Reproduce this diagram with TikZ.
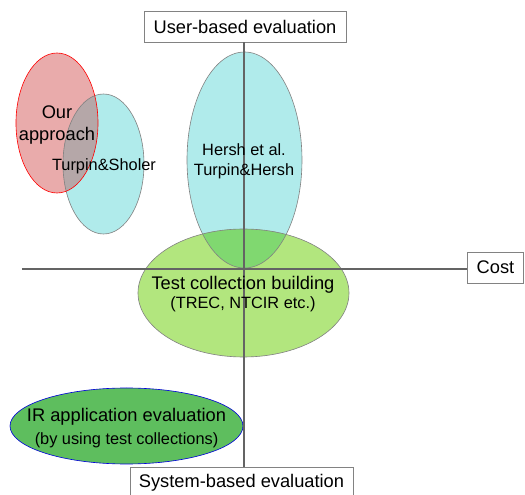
\documentclass[tikz,border=0pt]{standalone}
\usepackage{fontspec}
\setmainfont{Liberation Sans}
\usetikzlibrary{positioning}
\definecolor{paleblue}{RGB}{176,235,235}
\definecolor{rosefill}{RGB}{233,171,171}
\definecolor{mauve}{RGB}{181,167,168}
\definecolor{lightgreen}{RGB}{178,230,126}
\definecolor{midgreen}{RGB}{128,216,112}
\definecolor{appgreen}{RGB}{94,190,94}
\definecolor{edgegray}{RGB}{130,130,130}
\definecolor{axisgray}{RGB}{100,100,100}
\newcommand{\bigtxt}{\fontsize{10.4}{12.5}\selectfont}
\newcommand{\smalltxt}{\fontsize{9.3}{11.3}\selectfont}

\begin{document}
\begin{tikzpicture}[
	axisline/.style={draw=axisgray, line width=0.7pt},
	axisbox/.style={draw=edgegray, fill=white, line width=0.5pt, minimum height=0.62cm, inner sep=0pt, font=\bigtxt},
	blob/.style={line width=0.35pt},
	txt/.style={align=center, inner sep=0pt},
	ourshape/.style={x radius=0.82, y radius=1.4},
	sholershape/.style={x radius=0.81, y radius=1.4},
	hershshape/.style={x radius=1.15, y radius=2.16},
	testshape/.style={x radius=2.11, y radius=1.28},
	appshape/.style={x radius=2.33, y radius=0.76}]
	
	\useasboundingbox (-4.88,-4.52) rectangle (5.62,5.38);
	
	% centres
	\coordinate (origin) at (0,0);
	\coordinate (ours) at (-3.74,2.92);
	\coordinate (sholer) at (-2.81,2.1);
	\coordinate (hersh) at (0.01,2.18);
	\coordinate (testcol) at (-0.01,-0.48);
	\coordinate (irapp) at (-2.35,-3.14);
	
	% fills
	\fill[paleblue] (sholer) ellipse [sholershape];
	\fill[rosefill] (ours) ellipse [ourshape];
	\fill[paleblue] (hersh) ellipse [hershshape];
	\fill[lightgreen] (testcol) ellipse [testshape];
	\fill[appgreen] (irapp) ellipse [appshape];
	
	% overlaps
	\begin{scope}
		\clip (ours) ellipse [ourshape];
		\fill[mauve] (sholer) ellipse [sholershape];
	\end{scope}
	\begin{scope}
		\clip (hersh) ellipse [hershshape];
		\fill[midgreen] (testcol) ellipse [testshape];
	\end{scope}
	
	% outlines
	\draw[blob, edgegray] (sholer) ellipse [sholershape];
	\draw[blob, red] (ours) ellipse [ourshape];
	\draw[blob, edgegray] (hersh) ellipse [hershshape];
	\draw[blob, edgegray] (testcol) ellipse [testshape];
	\draw[blob, blue!85!black] (irapp) ellipse [appshape];
	
	% axes
	\node[axisbox, minimum width=4.04cm] (user) at (0.02,4.85) {User-based evaluation};
	\node[axisbox, minimum width=4.46cm] (system) at (-0.05,-4.27) {System-based evaluation};
	\node[axisbox, minimum width=1.12cm] (cost) at (5.03,0.03) {Cost};
	\coordinate (xstart) at (-4.44,0);
	
	\draw[axisline] (user.south -| origin) -- (system.north -| origin);
	\draw[axisline] (xstart) -- (xstart -| cost.west);
	
	% labels
	\node[txt, font=\bigtxt] (ourtxt) at (-3.74,2.88) {Our\\approach};
	\node[txt, font=\smalltxt] (sholertxt) at (-2.8,2.06) {Turpin\&Sholer};
	\node[txt, font=\smalltxt] (hershtxt) at (0,2.16) {Hersh et al.\\Turpin\&Hersh};
	\node[txt] (testtxt) at (-0.02,-0.5) {\bigtxt Test collection building\\[-1pt]\smalltxt (TREC, NTCIR etc.)};
	\node[txt] (apptxt) at (-2.35,-3.18) {\bigtxt IR application evaluation\\[1pt]\smalltxt (by using test collections)};
	
\end{tikzpicture}
\end{document}
